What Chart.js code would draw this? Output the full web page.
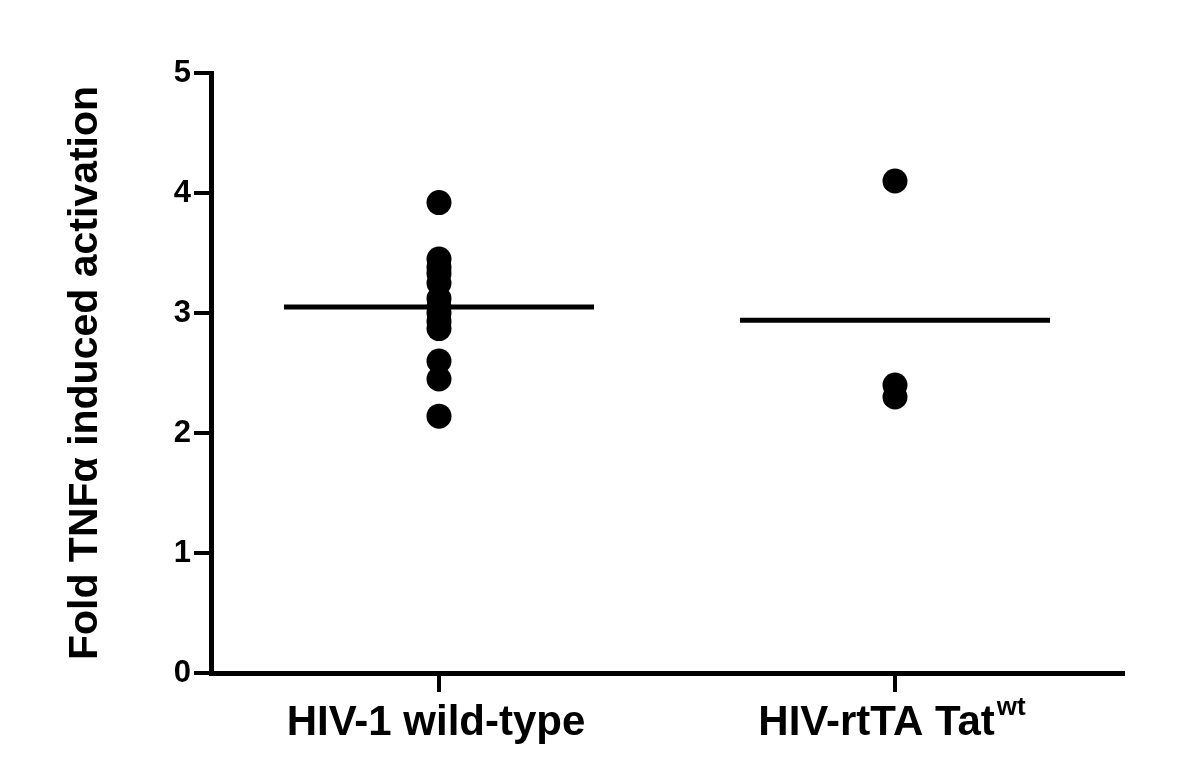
<!DOCTYPE html>
<html>
<head>
<meta charset="utf-8">
<script src="https://cdn.jsdelivr.net/npm/chart.js@4.4.0/dist/chart.umd.min.js"></script>
<style>
  html, body { margin: 0; padding: 0; background: #fff; }
  #wrap { width: 1200px; height: 780px; position: relative; }
</style>
</head>
<body>
<div id="wrap"><canvas id="c" width="1200" height="780"></canvas></div>
<script>
// ---- data ----
const categories = ['HIV-1 wild-type', 'HIV-rtTA Tat'];
const categorySuperscripts = ['', 'wt'];
const categoryPositions = [1, 2];
const wildTypeValues = [3.92, 3.45, 3.38, 3.33, 3.25, 3.12, 3.05, 3.00, 2.93, 2.87, 2.60, 2.45, 2.14];
const rtTAValues = [4.10, 2.40, 2.30];
const meanValues = [3.05, 2.94];
const yTicks = [0, 1, 2, 3, 4, 5];
const yTitle = 'Fold TNFα induced activation';

const FONT = '"Liberation Sans", Arial, Helvetica, sans-serif';
const meanHalfWidth = 0.34;

const groupValues = [wildTypeValues, rtTAValues];
const datasets = [];
groupValues.forEach((vals, gi) => {
  datasets.push({
    type: 'scatter',
    data: vals.map(v => ({ x: categoryPositions[gi], y: v })),
    backgroundColor: '#000',
    borderColor: '#000',
    pointRadius: 12.5,
    pointHoverRadius: 12.5,
    borderWidth: 0
  });
  datasets.push({
    type: 'line',
    data: [
      { x: categoryPositions[gi] - meanHalfWidth, y: meanValues[gi] },
      { x: categoryPositions[gi] + meanHalfWidth, y: meanValues[gi] }
    ],
    borderColor: '#000',
    borderWidth: 5,
    pointRadius: 0,
    fill: false,
    borderCapStyle: 'butt'
  });
});

const xLabelPlugin = {
  id: 'xLabels',
  afterDraw(chart) {
    const ctx = chart.ctx;
    const xs = chart.scales.x;
    const baseY = 735;
    ctx.save();
    ctx.fillStyle = '#000';
    ctx.textBaseline = 'alphabetic';
    categories.forEach((label, i) => {
      const cx = xs.getPixelForValue(categoryPositions[i]);
      ctx.font = 'bold 42px ' + FONT;
      const w1 = ctx.measureText(label).width;
      const sup = categorySuperscripts[i];
      let w2 = 0;
      if (sup) {
        ctx.font = 'bold 26px ' + FONT;
        w2 = ctx.measureText(sup).width + 2;
      }
      const start = cx - (w1 + w2) / 2 - 3;
      ctx.font = 'bold 42px ' + FONT;
      ctx.textAlign = 'left';
      ctx.fillText(label, start, baseY);
      if (sup) {
        ctx.font = 'bold 26px ' + FONT;
        ctx.fillText(sup, start + w1 + 2, baseY - 20);
      }
    });
    ctx.restore();
  }
};

new Chart(document.getElementById('c'), {
  type: 'scatter',
  data: { datasets },
  options: {
    responsive: false,
    animation: false,
    devicePixelRatio: 1,
    layout: { padding: { left: 0, top: 73, right: 77, bottom: 0 } },
    plugins: { legend: { display: false }, tooltip: { enabled: false } },
    scales: {
      x: {
        type: 'linear',
        min: 0.5,
        max: 2.5,
        afterBuildTicks(scale) { scale.ticks = categoryPositions.map(v => ({ value: v })); },
        afterFit(scale) { scale.height = 780 - 673; },
        border: { display: true, color: '#000', width: 5 },
        grid: { display: true, drawOnChartArea: false, drawTicks: true, tickLength: 19, color: '#000', lineWidth: 4 },
        ticks: { callback: () => '', font: { size: 10 } }
      },
      y: {
        type: 'linear',
        min: 0,
        max: 5,
        afterBuildTicks(scale) { scale.ticks = yTicks.map(v => ({ value: v })); },
        afterFit(scale) { scale.width = 211; },
        border: { display: true, color: '#000', width: 5 },
        grid: { display: true, drawOnChartArea: false, drawTicks: true, tickLength: 17, color: '#000', lineWidth: 4 },
        ticks: {
          color: '#000',
          padding: 3,
          font: { family: FONT, size: 31, weight: 'bold' },
          callback: v => String(v)
        },
        title: {
          display: true,
          text: yTitle,
          color: '#000',
          font: { family: FONT, size: 41, weight: 'bold' },
          padding: { top: 61, bottom: 0 }
        }
      }
    }
  },
  plugins: [xLabelPlugin]
});
</script>
</body>
</html>
